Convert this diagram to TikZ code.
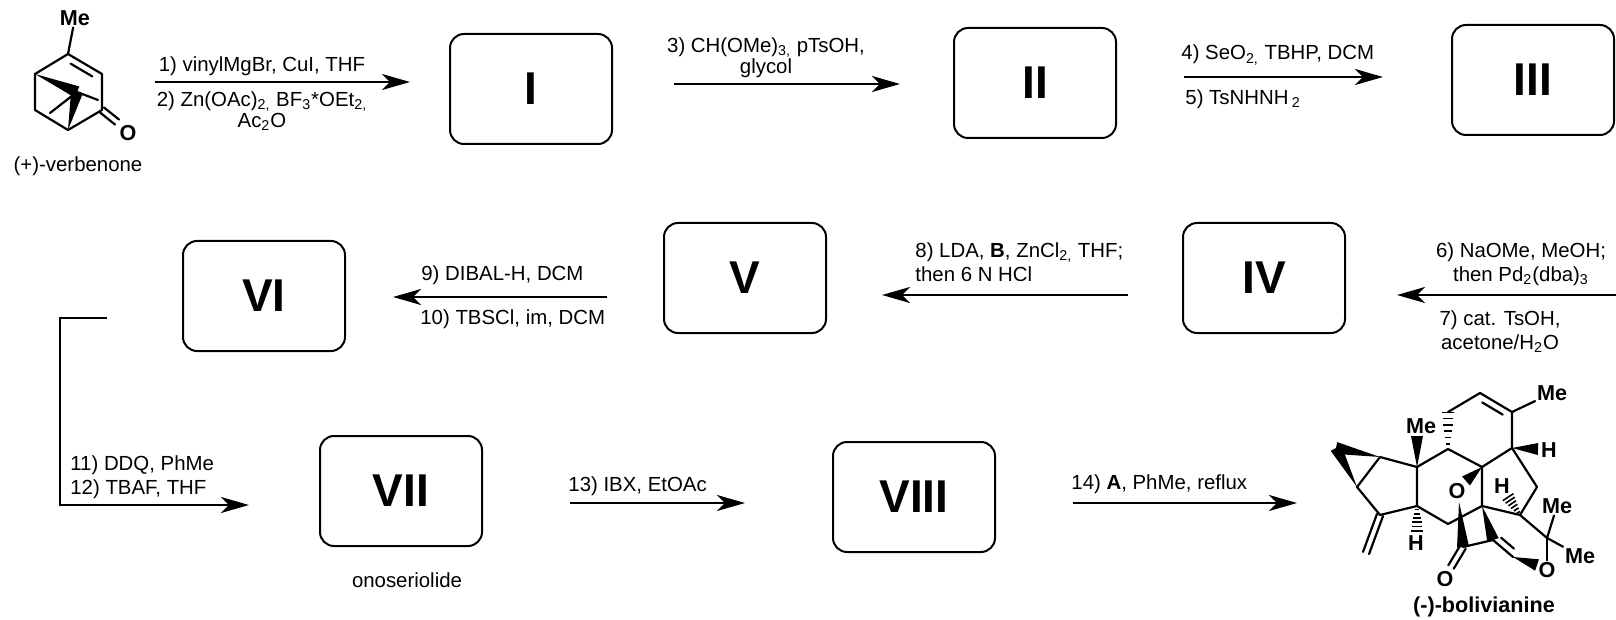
\documentclass[tikz,border=0pt]{standalone}
\usepackage{fontspec}
\setmainfont{Liberation Sans}
\usepackage{tikz}
\usetikzlibrary{%
	calc,%
	arrows.meta%
}

\newcommand{\condfont}{\fontsize{10.2}{12}\selectfont}
\newcommand{\boxfont}{\fontsize{23}{28}\selectfont\bfseries}
\newcommand{\atomfont}{\fontsize{10.8}{12}\selectfont\bfseries}
% wedge: narrow at #1, wide at #2
\newcommand{\wedgebond}[2]{\fill ($(#2)!3pt!90:(#1)$) -- (#1) -- ($(#2)!3pt!-90:(#1)$) -- cycle;}
% hashed wedge: narrow at #1, wide at #2
\newcommand{\hashbond}[2]{%
	\foreach \s in {0.14,0.31,0.48,0.65,0.82,0.99}{%
		\pgfmathsetlengthmacro{\hw}{0.6pt+\s*2.6pt}%
		\draw[line width=0.8pt] ($(#1)!\s!(#2)!\hw!90:(#1)$) -- ($(#1)!\s!(#2)!\hw!-90:(#1)$);}}
% double bond, inner line on side #3
\newcommand{\dblbond}[3]{\draw[bond] (#1) -- (#2);
	\draw[bond] ($(#1)!0.18!(#2)!3.5pt!#3:(#2)$) -- ($(#2)!0.18!(#1)!3.5pt!#3:(#2)$);}
% centred double bond
\newcommand{\cdblbond}[2]{\draw[bond] ($(#1)!1.6pt!90:(#2)$) -- ($(#2)!1.6pt!-90:(#1)$);
	\draw[bond] ($(#1)!1.6pt!-90:(#2)$) -- ($(#2)!1.6pt!90:(#1)$);}

\begin{document}
\begin{tikzpicture}[x=0.5pt, y=-0.5pt,
	box/.style={draw, line width=1pt, rounded corners=7pt, minimum width=81pt, minimum height=55pt, font=\boxfont},
	rxn/.style={line width=1.2pt, -{Stealth[length=14pt, width=8pt, inset=4pt]}},
	cond/.style={inner sep=0pt, font=\condfont},
	atom/.style={inner sep=0.8pt, font=\atomfont},
	bond/.style={line width=1.1pt, line cap=round, line join=round}]
	% Canvas
	\fill[white] (0,0) rectangle (1616,620);
	\useasboundingbox (0,0) rectangle (1616,620);
	
	% Boxes
	\node[box] (I) at (531,89) {I};
	\node[box] (II) at (1035,83) {II};
	\node[box] (III) at (1533,80) {III};
	\node[box] (IV) at (1264,278) {IV};
	\node[box] (V) at (745,278) {V};
	\node[box] (VI) at (264,296) {VI};
	\node[box] (VII) at (401,491) {VII};
	\node[box] (VIII) at (914,497) {VIII};
	
	% Arrow ends
	\coordinate (a1s) at (155,82);  \coordinate (a1e) at (410,82);
	\coordinate (a3s) at (674,84);  \coordinate (a3e) at (900,84);
	\coordinate (a4s) at (1184,77); \coordinate (a4e) at (1383,77);
	\coordinate (a6s) at (1616,295); \coordinate (a6e) at (1397,295);
	\coordinate (a8s) at (1128,295); \coordinate (a8e) at (882,295);
	\coordinate (a9s) at (607,297); \coordinate (a9e) at (393,297);
	\coordinate (a11s) at (107,318); \coordinate (a11k) at (60,505); \coordinate (a11e) at (249,505);
	\coordinate (a13s) at (570,503); \coordinate (a13e) at (745,503);
	\coordinate (a14s) at (1073,503); \coordinate (a14e) at (1297,503);
	
	% Arrows
	\foreach \from/\to in {a1s/a1e, a3s/a3e, a4s/a4e, a6s/a6e, a8s/a8e, a9s/a9e, a13s/a13e, a14s/a14e}
	\draw[rxn] (\from) -- (\to);
	\draw[rxn] (a11s) -| (a11k) -- (a11e);
	
	% Conditions
	\node[cond] (c1) at (262,66) {1) vinylMgBr, CuI, THF};
	\node[cond, align=center] (c2) at (262,111) {2) Zn(OAc)\textsubscript{2,} BF\textsubscript{3}*OEt\textsubscript{2,}\\[-1.5pt]Ac\textsubscript{2}O};
	\node[cond, align=center] (c3) at (766,58) {3) CH(OMe)\textsubscript{3,} pTsOH,\\[-1.5pt]glycol};
	\node[cond, anchor=west] (c4) at (1181,55) {4) SeO\textsubscript{2,} TBHP, DCM};
	\node[cond, anchor=west] (c5) at (1185,99) {5) TsNHNH\,\textsubscript{2}};
	\node[cond, align=center] (c6) at (1521,264) {6) NaOMe, MeOH;\\then Pd\textsubscript{2}(dba)\textsubscript{3}};
	\node[cond, align=center] (c7) at (1500,332) {7) cat. TsOH,\\acetone/H\textsubscript{2}O};
	\node[cond, align=left, anchor=west] (c8) at (915,262) {8) LDA, \textbf{B}, ZnCl\textsubscript{2,} THF;\\then 6 N HCl};
	\node[cond, anchor=west] (c9) at (421,275) {9) DIBAL-H, DCM};
	\node[cond, anchor=west] (c10) at (420,319) {10) TBSCl, im, DCM};
	\node[cond, align=left, anchor=west] (c11) at (70,477) {11) DDQ, PhMe\\12) TBAF, THF};
	\node[cond, anchor=west] (c13) at (568,486) {13) IBX, EtOAc};
	\node[cond, anchor=west] (c14) at (1071,484) {14) \textbf{A}, PhMe, reflux};
	
	% Names
	\node[cond] (verb) at (78,166) {(+)-verbenone};
	\node[cond] (onos) at (407,580) {onoseriolide};
	\node[cond, font=\atomfont] (boli) at (1484,607) {(-)-bolivianine};
	
	% (+)-verbenone
	\coordinate (v1) at (68,54);
	\coordinate (v2) at (102,74);
	\coordinate (v3) at (102,110);
	\coordinate (v4) at (68,130);
	\coordinate (v5) at (35,110);
	\coordinate (v6) at (35,74);
	\coordinate (v7) at (77,92);
	\coordinate (vm1) at (98,100);
	\coordinate (vm2) at (50,113);
	\coordinate (vO) at (117,122);
	\node[atom] (vMe) at (75,18) {Me};
	\node[atom] (vOl) at (128,133) {O};
	\draw[bond] (vMe) -- (v1) -- (v6) -- (v5) -- (v4) -- (v3) -- (v2);
	\dblbond{v1}{v2}{-90}
	\cdblbond{v3}{vO}
	\wedgebond{v6}{v7}
	\wedgebond{v4}{v7}
	\draw[bond] (vm2) -- (v7) -- (vm1);
	
	% (-)-bolivianine
	\coordinate (cL) at (1336,448);
	\coordinate (cR) at (1380,457);
	\coordinate (cB) at (1357,487);
	\coordinate (q) at (1417,467);
	\coordinate (qMe) at (1417,436);
	\coordinate (fz) at (1417,506);
	\coordinate (fzH) at (1417,531);
	\coordinate (ex) at (1380,515);
	\coordinate (exE) at (1366,553);
	\coordinate (d) at (1448,449);
	\coordinate (t1) at (1448,412);
	\coordinate (t2) at (1480,393);
	\coordinate (t3) at (1512,412);
	\coordinate (f) at (1512,448);
	\coordinate (fH) at (1538,449);
	\coordinate (g) at (1482,467);
	\coordinate (gO) at (1466,481);
	\coordinate (h) at (1482,506);
	\coordinate (i) at (1448,524);
	\coordinate (c) at (1537,487);
	\coordinate (j) at (1520,515);
	\coordinate (jH) at (1508,497);
	\coordinate (k) at (1547,538);
	\coordinate (r1) at (1513,557);
	\coordinate (r1O) at (1537,565);
	\coordinate (r2) at (1493,540);
	\coordinate (co) at (1463,547);
	\coordinate (coO) at (1451,567);
	\coordinate (Oc) at (1459,502);
	\node[atom] (MeQ) at (1421,426) {Me};
	\node[atom] (Hfz) at (1416,543) {H};
	\node[atom] (MeT) at (1552,393) {Me};
	\node[atom] (Hf) at (1549,450) {H};
	\node[atom] (Og) at (1457,491) {O};
	\node[atom] (Hj) at (1502,486) {H};
	\node[atom] (MeK1) at (1557,506) {Me};
	\node[atom] (MeK2) at (1580,556) {Me};
	\node[atom] (O2) at (1547,570) {O};
	\node[atom] (O3) at (1445,579) {O};
	\draw[bond] (cR) -- (cB) -- (ex) -- (fz) -- (q) -- (cR);
	\wedgebond{cR}{cL}
	\wedgebond{cB}{cL}
	\cdblbond{ex}{exE}
	\wedgebond{q}{qMe}
	\hashbond{fz}{fzH}
	\draw[bond] (q) -- (d);
	\hashbond{d}{t1}
	\draw[bond] (t1) -- (t2);
	\dblbond{t2}{t3}{-90}
	\draw[bond] (t3) -- (MeT);
	\draw[bond] (t3) -- (f) -- (g) -- (d);
	\wedgebond{f}{fH}
	\wedgebond{g}{gO}
	\draw[bond] (g) -- (h) -- (i) -- (fz);
	\draw[bond] (f) -- (c) -- (j) -- (h);
	\hashbond{j}{jH}
	\draw[bond] (j) -- (k) -- (MeK1);
	\draw[bond] (k) -- (MeK2);
	\draw[bond] (k) -- (O2);
	\wedgebond{r1}{r1O}
	\dblbond{r2}{r1}{90}
	\wedgebond{h}{r2}
	\draw[bond] (r2) -- (co);
	\cdblbond{co}{coO}
	\wedgebond{Oc}{co}
\end{tikzpicture}
\end{document}
